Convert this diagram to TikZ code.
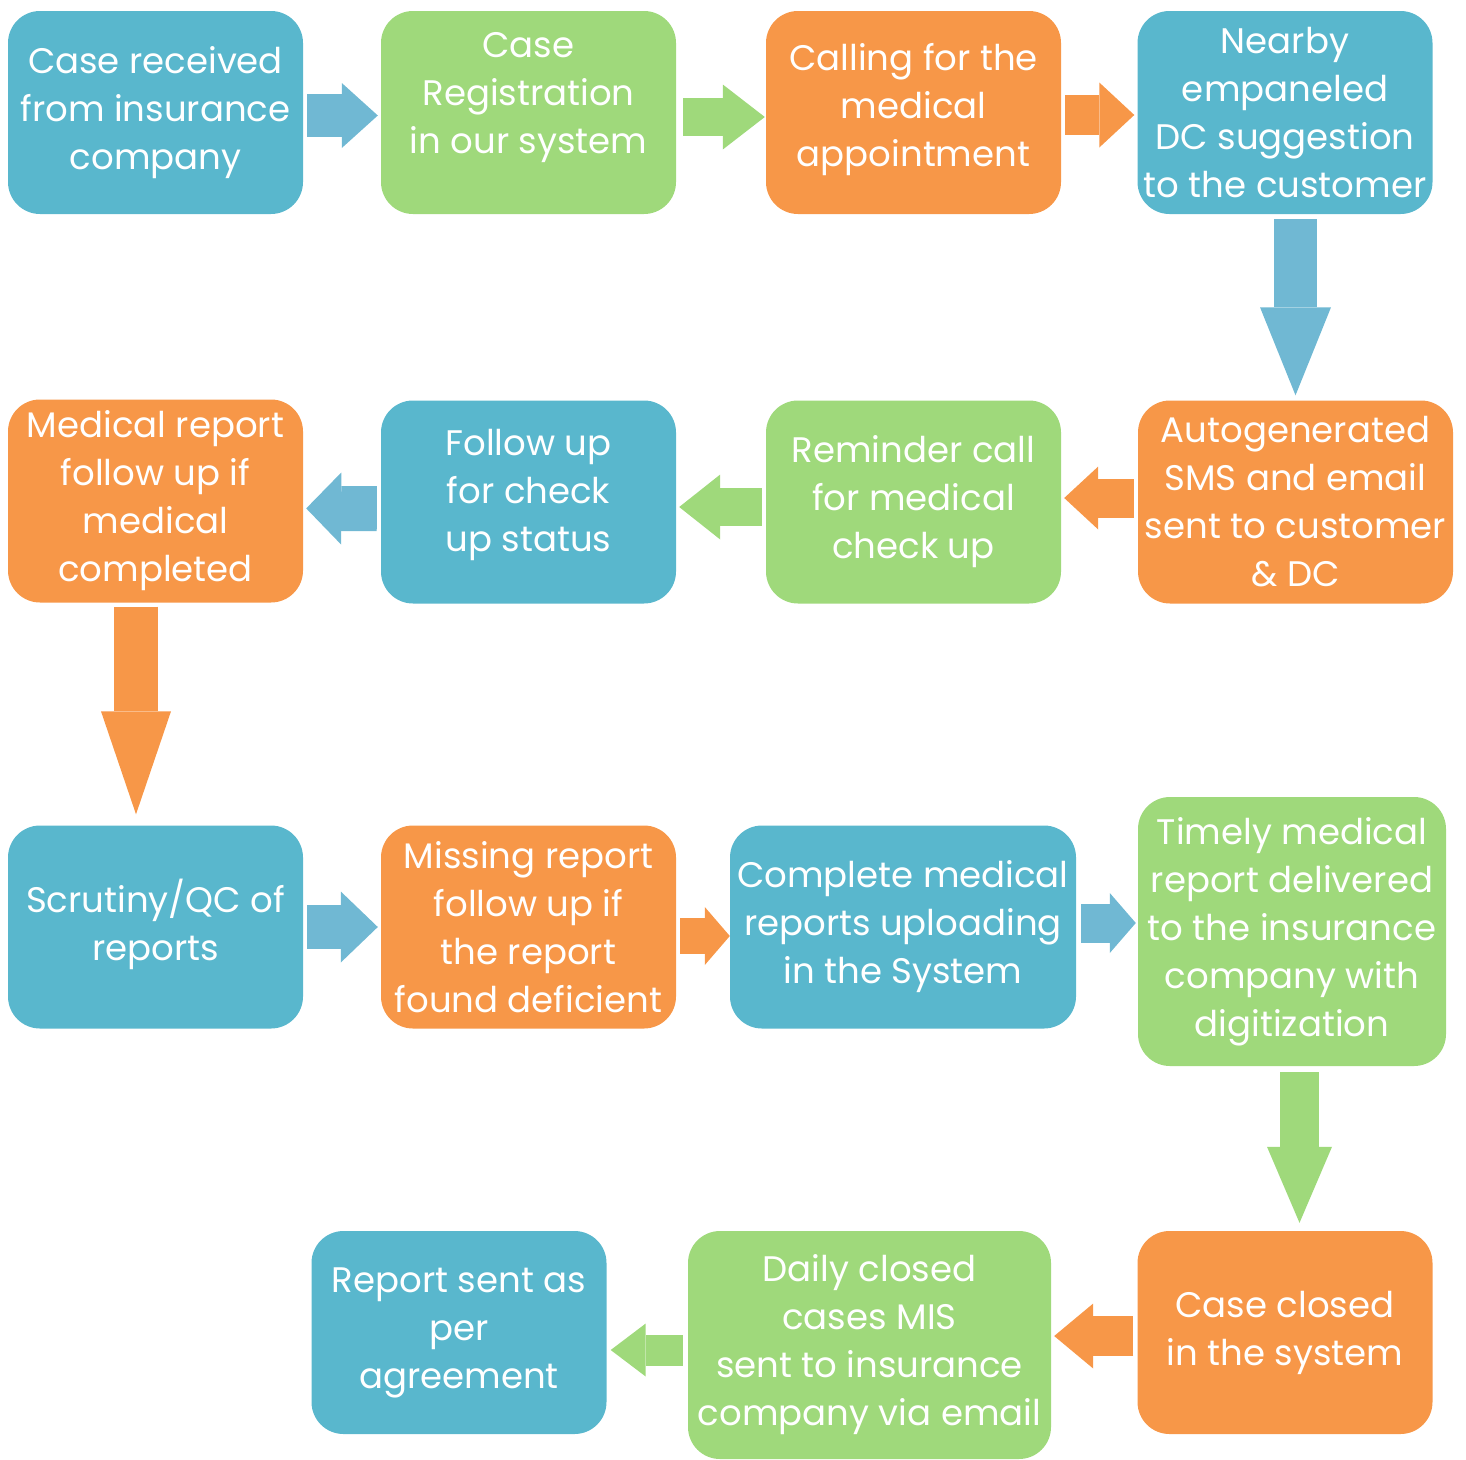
\documentclass[tikz,border=0pt]{standalone}
\usepackage{fontspec}
\setmainfont{Poppins}
\usetikzlibrary{arrows.meta}
\definecolor{boxblue}{HTML}{59B7CD}
\definecolor{arrblue}{HTML}{70B8D3}
\definecolor{boxgreen}{HTML}{9FD97B}
\definecolor{boxorange}{HTML}{F79748}
\tikzset{
  stage/.style={rounded corners=32pt, minimum width=295pt, minimum height=203pt, inner sep=0pt,
    text=white, align=center, font=\fontsize{35.5}{48}\selectfont},
  bluestage/.style={stage, fill=boxblue},
  greenstage/.style={stage, fill=boxgreen},
  orangestage/.style={stage, fill=boxorange},
  flow/.style n args={4}{color=#1, line width=#2, -{Triangle[width=#3, length=#4, line width=0pt 0 0]},
    shorten <=4pt, shorten >=3pt},
}
\begin{document}
\begin{tikzpicture}[x=1pt, y=-1pt]
\useasboundingbox (0,0) rectangle (1466,1459);
% row 1
\node[bluestage] (recv) at (155.5,112.5) {Case received\\from insurance\\company};
\node[greenstage] (reg) at (528.5,112.5) {Case\\Registration\\in our system\\[-8pt]\mbox{}};
\node[orangestage] (call) at (913.5,112.5) {Calling for the\\medical\\appointment\\[-32pt]\mbox{}};
\node[bluestage] (dc) at (1285,112.5) {Nearby\\empaneled\\DC suggestion\\to the customer};
% row 2
\node[orangestage, minimum width=315pt] (sms) at (1295.5,502) {Autogenerated\\SMS and email\\sent to customer\\\& DC};
\node[greenstage] (remind) at (913.5,502) {Reminder call\\for medical\\check up};
\node[bluestage] (status) at (528.5,502) {Follow up\\for check\\up status\\[-24pt]\mbox{}};
\node[orangestage] (medrep) at (155.5,501) {Medical report\\follow up if\\medical\\completed};
% row 3
\node[bluestage] (qc) at (155.5,927) {Scrutiny/QC of\\reports\\[-34pt]\mbox{}};
\node[orangestage] (missing) at (528.5,927) {Missing report\\follow up if\\the report\\found deficient};
\node[bluestage, minimum width=346pt] (upload) at (903,927) {Complete medical\\reports uploading\\in the System};
\node[greenstage, minimum width=308pt, minimum height=269pt] (deliver) at (1292,931.5) {Timely medical\\report delivered\\to the insurance\\company with\\digitization};
% row 4
\node[orangestage] (closed) at (1285,1332.5) {Case closed\\in the system};
\node[greenstage, minimum width=363pt, minimum height=228pt] (mis) at (869.5,1345) {Daily closed\\cases MIS\\sent to insurance\\company via email};
\node[bluestage] (sent) at (459,1332.5) {Report sent as\\per\\agreement};
% arrows
\path[flow={arrblue}{43pt}{65pt}{36pt}, transform canvas={yshift=-3pt}] (recv) edge (reg);
\path[flow={boxgreen}{38pt}{65pt}{42pt}, shorten <=7pt, shorten >=1pt, transform canvas={yshift=-4.5pt}] (reg) edge (call);
\path[flow={boxorange}{40pt}{65pt}{35pt}, transform canvas={yshift=-2.5pt}] (call) edge (dc);
\path[flow={arrblue}{43pt}{71pt}{88pt}, shorten <=5pt, shorten >=5pt] (sms.north |- dc.south) edge (sms.north);
\path[flow={boxorange}{39pt}{63pt}{34pt}, transform canvas={yshift=4pt}] (sms) edge (remind);
\path[flow={boxgreen}{38pt}{65pt}{41pt}, transform canvas={yshift=-5pt}] (remind) edge (status);
\path[flow={arrblue}{45pt}{72pt}{35pt}, transform canvas={yshift=-7pt}] (status) edge (medrep);
\path[flow={boxorange}{44pt}{70pt}{103pt}, shorten >=11pt, transform canvas={xshift=-19.5pt}] (medrep) edge (qc);
\path[flow={arrblue}{44pt}{71pt}{37pt}] (qc) edge (missing);
\path[flow={boxorange}{36pt}{58pt}{25pt}, shorten >=0pt, transform canvas={yshift=-9pt}] (missing) edge (upload);
\path[flow={arrblue}{39pt}{60pt}{26pt}, shorten <=5pt, shorten >=2pt, transform canvas={yshift=4pt}] (upload.east) edge (upload.east -| deliver.west);
\path[flow={boxgreen}{39pt}{65pt}{76pt}, shorten <=6pt, shorten >=8pt, transform canvas={xshift=7.5pt}] (deliver.south) edge (deliver.south |- closed.north);
\path[flow={boxorange}{40pt}{65pt}{39pt}, transform canvas={yshift=-3.5pt}] (closed.west) edge (closed.west -| mis.east);
\path[flow={boxgreen}{31pt}{53pt}{35pt}, shorten <=5pt, shorten >=4pt, transform canvas={yshift=-5pt}] (mis.west) edge (mis.west -| sent.east);
\end{tikzpicture}
\end{document}
